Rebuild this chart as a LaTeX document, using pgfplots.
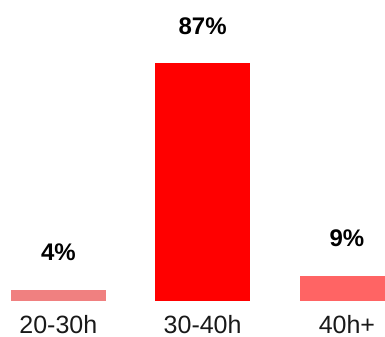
\documentclass[border=0pt]{standalone}
\usepackage{pgfplots}
\pgfplotsset{compat=1.18}
\usepackage{fontspec}
\setmainfont{Liberation Sans}
\definecolor{barA}{HTML}{F08080}
\definecolor{barB}{HTML}{FF0000}
\definecolor{barC}{HTML}{FF6464}
\begin{document}
\begin{tikzpicture}
\begin{axis}[
  at={(0,0)}, anchor=south west,
  scale only axis, width=385bp, height=300.5bp,
  xmin=-0.4045, xmax=2.264, ymin=0, ymax=110.3,
  axis line style={draw=none},
  major tick length=0pt,
  ytick=\empty,
  xtick={0,1,2},
  xticklabels={20-30h,30-40h,40h+},
  xticklabel style={anchor=base, yshift=-32.5bp, font=\fontsize{25bp}{30bp}\selectfont, text=black!90},
  /pgf/number format/assume math mode=true,
  ybar, bar width=0.656, bar shift=0pt,
  nodes near coords={\pgfmathprintnumber{\pgfplotspointmeta}\%},
  nodes near coords style={anchor=base, yshift=29bp, font=\fontsize{24bp}{28bp}\selectfont\bfseries, text=black},
  clip=true,
]
\addplot[draw=none, fill=barA] coordinates {(0,4)};
\addplot[draw=none, fill=barB] coordinates {(1,87)};
\addplot[draw=none, fill=barC] coordinates {(2,9)};
\end{axis}
\pgfresetboundingbox
\path[use as bounding box] (0,-36.5bp) rectangle (385bp,300.5bp);
\end{tikzpicture}
\end{document}
